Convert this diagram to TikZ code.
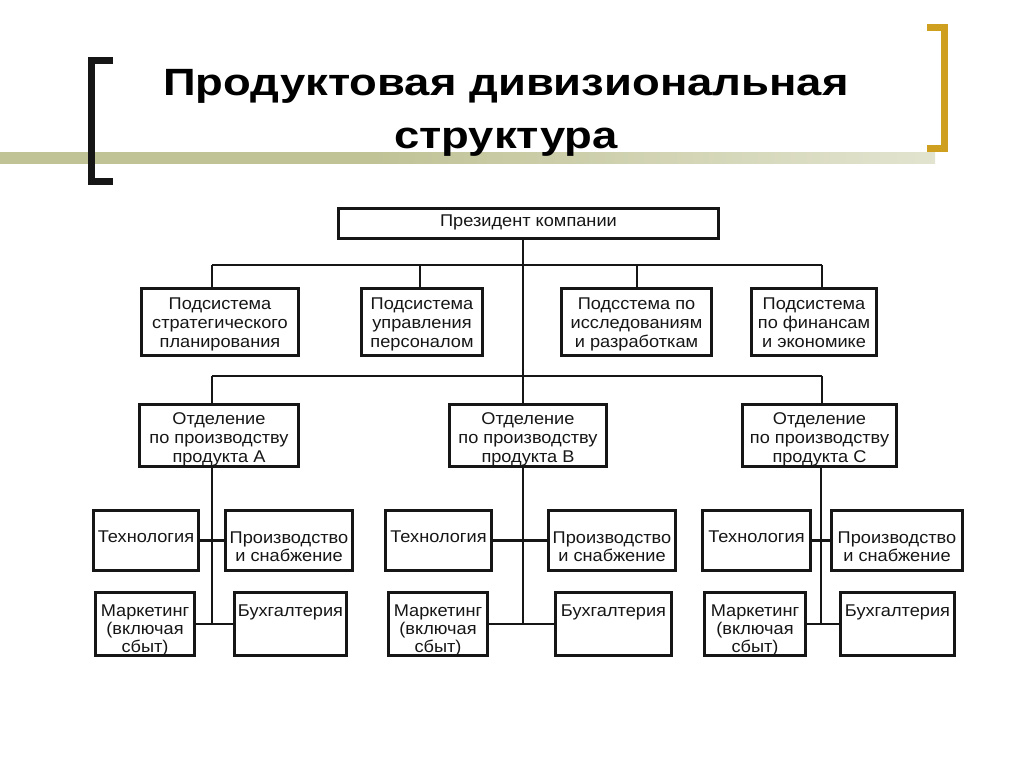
\documentclass[tikz,border=0pt]{standalone}
\usepackage{fontspec}
\setmainfont{Liberation Sans}[FakeStretch=1.07]
\newfontfamily\titlefam[FakeStretch=1.195]{Liberation Sans}
\definecolor{ink}{HTML}{161616}
\definecolor{gold}{HTML}{CF9F1F}
\definecolor{olive}{HTML}{C0C396}
\pgfdeclarehorizontalshading{bandshade}{100bp}{color(0bp)=(olive); color(45bp)=(olive); color(100bp)=(white)}
\tikzset{
  box/.style={draw=ink, line width=3.1pt, inner sep=0pt, text=ink,
    font=\fontsize{17}{19}\selectfont},
  lowbox/.style={font=\fontsize{17}{18}\selectfont},
  wire/.style={draw=ink, line width=2.6pt},
  titletext/.style={align=center, inner sep=0pt, text=black,
    font=\titlefam\bfseries\fontsize{38}{53}\selectfont},
}
% [options] name, left, right, top, bottom, raise of first baseline, text
\newcommand\orgbox[8][]{\node[box, #1, minimum width={#4-#3-3}, minimum height={#6-#5-3}] (#2) at ({(#3+#4)/2},{(#5+#6)/2}) {\raisebox{#7}[0pt][0pt]{\begin{tabular}[t]{@{}c@{}}#8\end{tabular}}};}
\begin{document}
\begin{tikzpicture}[x=1pt,y=-1pt]
\useasboundingbox[fill=white] (0,0) rectangle (1024,767);
% decoration
\fill[shading=bandshade] (0,153) rectangle (935,164);
\draw[line width=7pt, ink, line join=miter] (113,60.5) -- (91.5,60.5) -- (91.5,181.5) -- (113,181.5);
\draw[line width=7pt, gold, line join=miter] (927,27.5) -- (944.5,27.5) -- (944.5,149) -- (927,149);
\node[titletext, anchor=base] (title) at (506,149) {Продуктовая дивизиональная\\структура};
% boxes
\orgbox{pres}{337}{720}{207}{240}{-2.5pt}{Президент компании}
\orgbox{s1}{140}{300}{287}{357}{13pt}{Подсистема\\стратегического\\планирования}
\orgbox{s2}{360}{484}{287}{357}{13pt}{Подсистема\\управления\\персоналом}
\orgbox{s3}{560}{713}{287}{357}{13pt}{Подсстема по\\исследованиям\\и разработкам}
\orgbox{s4}{750}{878}{287}{357}{13pt}{Подсистема\\по финансам\\и экономике}
\orgbox{dA}{138}{300}{403}{468}{11.5pt}{Отделение\\по производству\\продукта A}
\orgbox{dB}{448}{608}{403}{468}{11.5pt}{Отделение\\по производству\\продукта B}
\orgbox{dC}{741}{898}{403}{468}{11.5pt}{Отделение\\по производству\\продукта C}
\orgbox[lowbox]{tA}{92}{200}{509}{572}{-1.5pt}{Технология}
\orgbox[lowbox]{pA}{224}{354}{509}{572}{-2.5pt}{Производство\\и снабжение}
\orgbox[lowbox]{mA}{94}{196}{591}{657}{8pt}{Маркетинг\\(включая\\сбыт)}
\orgbox[lowbox]{bA}{233}{348}{591}{657}{8pt}{Бухгалтерия}
\orgbox[lowbox]{tB}{384}{493}{509}{572}{-1.5pt}{Технология}
\orgbox[lowbox]{pB}{547}{677}{509}{572}{-2.5pt}{Производство\\и снабжение}
\orgbox[lowbox]{mB}{387}{489}{591}{657}{8pt}{Маркетинг\\(включая\\сбыт)}
\orgbox[lowbox]{bB}{554}{673}{591}{657}{8pt}{Бухгалтерия}
\orgbox[lowbox]{tC}{701}{812}{509}{572}{-1.5pt}{Технология}
\orgbox[lowbox]{pC}{830}{964}{509}{572}{-2.5pt}{Производство\\и снабжение}
\orgbox[lowbox]{mC}{703}{807}{591}{657}{8pt}{Маркетинг\\(включая\\сбыт)}
\orgbox[lowbox]{bC}{839}{956}{591}{657}{8pt}{Бухгалтерия}
% junction coordinates
\coordinate (sL) at (212,265);
\coordinate (sR) at (822,265);
\coordinate (s2j) at (420,265);
\coordinate (s3j) at (637,265);
\coordinate (trunk) at (523,376);
\coordinate (dL) at (212,376);
\coordinate (dR) at (822,376);
\coordinate (vA) at (212,624);
\coordinate (vB) at (523,624);
\coordinate (vC) at (821,624);
% connectors
\draw[wire] (pres.south -| trunk) -- (trunk);
\draw[wire] (sL) -- (sR);
\draw[wire] (sL) -- (sL |- s1.north);
\draw[wire] (s2j) -- (s2j |- s2.north);
\draw[wire] (s3j) -- (s3j |- s3.north);
\draw[wire] (sR) -- (sR |- s4.north);
\draw[wire] (dL) -- (dR);
\draw[wire] (dL) -- (dL |- dA.north);
\draw[wire] (trunk) -- (trunk |- dB.north);
\draw[wire] (dR) -- (dR |- dC.north);
\draw[wire] (vA |- dA.south) -- (vA);
\draw[wire] (vB |- dB.south) -- (vB);
\draw[wire] (vC |- dC.south) -- (vC);
\draw[wire] (tA.east) -- (pA.west);
\draw[wire] (mA.east) -- (bA.west);
\draw[wire] (tB.east) -- (pB.west);
\draw[wire] (mB.east) -- (bB.west);
\draw[wire] (tC.east) -- (pC.west);
\draw[wire] (mC.east) -- (bC.west);
\end{tikzpicture}
\end{document}
